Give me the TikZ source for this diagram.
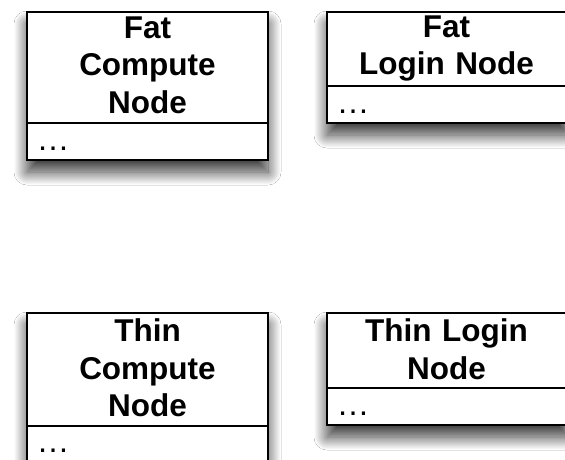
\documentclass[tikz,border=0pt]{standalone}
\usepackage{fontspec}
\setmainfont{Liberation Sans}
\usetikzlibrary{shadows.blur}

\tikzset{
  classbox/.style={rectangle, draw=black, line width=2.6pt, fill=white,
    inner sep=0pt, outer sep=0pt, anchor=north west,
    blur shadow={shadow xshift=0pt, shadow yshift=-12pt,
      shadow blur radius=13pt, shadow opacity=80, shadow blur steps=40}},
  classname/.style={font=\bfseries\fontsize{31.5}{37.5}\selectfont,
    text width=240pt, align=center, inner sep=0pt, anchor=base},
  members/.style={font=\fontsize{33}{38}\selectfont, inner sep=0pt,
    anchor=base west},
  divider/.style={line width=2.6pt}
}

\begin{document}
\begin{tikzpicture}[x=1pt, y=1pt]
  \useasboundingbox (0,-460) rectangle (565,0);
  \fill[white] (0,-460) rectangle (565,0);
  \clip (0,-460) rectangle (565,0);

  % Fat compute node
  \node[classbox, minimum width=241pt, minimum height=148pt] (fatc) at (27,-12) {};
  \coordinate (fatcdiv) at (0,-123);
  \draw[divider] (fatc.west |- fatcdiv) -- (fatc.east |- fatcdiv);
  \node[classname] (fatcname) at (147.5,-38.3) {Fat\\Compute\\Node};
  \node[members] (fatcmem) at (36.5,-150) {…};

  % Fat login node
  \node[classbox, minimum width=242pt, minimum height=111pt] (fatl) at (327,-12) {};
  \coordinate (fatldiv) at (0,-86);
  \draw[divider] (fatl.west |- fatldiv) -- (fatl.east |- fatldiv);
  \node[classname] (fatlname) at (446.5,-37.5) {Fat\\Login Node};
  \node[members] (fatlmem) at (336.5,-113.5) {…};

  % Thin compute node
  \node[classbox, minimum width=241pt, minimum height=150pt] (thinc) at (27,-313) {};
  \coordinate (thincdiv) at (0,-426);
  \draw[divider] (thinc.west |- thincdiv) -- (thinc.east |- thincdiv);
  \node[classname] (thincname) at (147.5,-341.7) {Thin\\Compute\\Node};
  \node[members] (thincmem) at (36.5,-452) {…};

  % Thin login node
  \node[classbox, minimum width=242pt, minimum height=112pt] (thinl) at (327,-313) {};
  \coordinate (thinldiv) at (0,-388);
  \draw[divider] (thinl.west |- thinldiv) -- (thinl.east |- thinldiv);
  \node[classname] (thinlname) at (446.5,-341.7) {Thin Login\\Node};
  \node[members] (thinlmem) at (336.5,-415) {…};
\end{tikzpicture}
\end{document}
